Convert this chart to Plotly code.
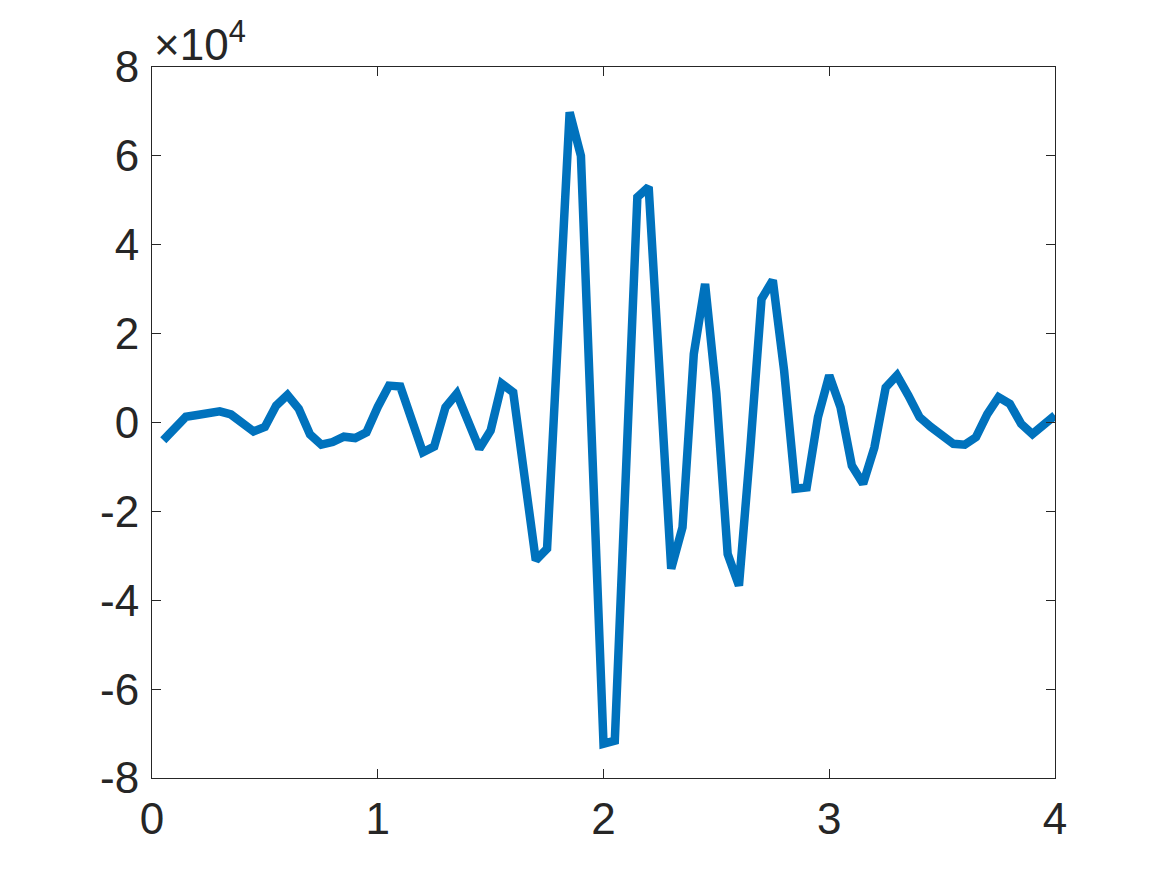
import plotly.graph_objects as go

# sample times (s), step 0.05
t = [round(0.05 * k, 2) for k in range(1, 81)]

# signal values in units of 1e4
y_1e4 = [
    -0.40, -0.15, 0.13, 0.17, 0.22, 0.25, 0.18, -0.01, -0.20, -0.10,
    0.38, 0.62, 0.31, -0.27, -0.50, -0.44, -0.32, -0.35, -0.22, 0.35,
    0.83, 0.81, 0.05, -0.67, -0.54, 0.34, 0.65, 0.01, -0.59, -0.18,
    0.87, 0.68, -1.25, -3.10, -2.84, 2.10, 6.98, 6.00, -0.65, -7.23,
    -7.16, -1.05, 5.07, 5.30, 1.00, -3.29, -2.36, 1.54, 3.12, 0.65,
    -2.96, -3.67, -0.60, 2.78, 3.20, 1.17, -1.49, -1.46, 0.12, 1.06,
    0.34, -0.97, -1.38, -0.56, 0.79, 1.06, 0.61, 0.12, -0.10, -0.29,
    -0.48, -0.50, -0.33, 0.19, 0.57, 0.42, -0.03, -0.26, -0.07, 0.16,
]
y = [v * 1e4 for v in y_1e4]

x_ticks = [0, 1, 2, 3, 4]
y_ticks = [-8, -6, -4, -2, 0, 2, 4, 6, 8]

axis_col = '#262626'
font = dict(family='Liberation Sans, Arial, sans-serif', size=44, color=axis_col)

fig = go.Figure()
fig.add_trace(
    go.Scatter(
        x=t,
        y=y,
        mode='lines',
        line=dict(color='#0072BD', width=8.5),
        showlegend=False,
    )
)

common_axis = dict(
    showgrid=False,
    zeroline=False,
    showline=True,
    linecolor=axis_col,
    linewidth=1,
    mirror='ticks',
    ticks='inside',
    ticklen=9,
    tickwidth=1,
    tickcolor=axis_col,
    tickfont=font,
)

fig.update_xaxes(
    range=[0, 4],
    tickvals=x_ticks,
    ticktext=[str(v) for v in x_ticks],
    ticklabelstandoff=2,
    **common_axis,
)
fig.update_yaxes(
    range=[-8e4, 8e4],
    tickvals=[v * 1e4 for v in y_ticks],
    ticktext=[str(v) for v in y_ticks],
    ticklabelstandoff=3,
    **common_axis,
)

# exponent label like MATLAB
fig.add_annotation(
    text='×10<sup>4</sup>',
    xref='paper', yref='paper',
    x=0, y=1,
    xanchor='left', yanchor='bottom',
    yshift=-4,
    showarrow=False,
    font=font,
)

# page body adds an 8px margin, so the figure is 8px smaller
fig.update_layout(
    width=1159,
    height=867,
    paper_bgcolor='white',
    plot_bgcolor='white',
    margin=dict(l=144, r=112, t=59, b=97),
)

fig.write_html("out.html")
